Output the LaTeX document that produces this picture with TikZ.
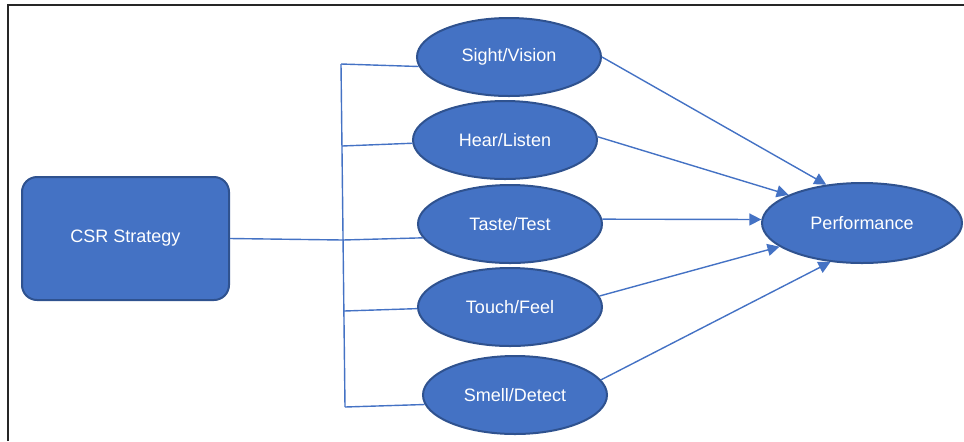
\documentclass[tikz,border=0pt]{standalone}
\usepackage{fontspec}
\setmainfont{Liberation Sans}
\usetikzlibrary{arrows.meta,shapes.geometric}

\definecolor{officeblue}{HTML}{4472C4}
\definecolor{officeedge}{HTML}{2F528F}

\begin{document}
\begin{tikzpicture}[x=0.5pt, y=-0.5pt,
  every node/.style={font=\fontsize{9}{11}\selectfont, text=white},
  sense/.style={ellipse, draw=officeedge, fill=officeblue, line width=1pt, minimum width=92pt, minimum height=39pt, inner sep=0pt},
  strategy/.style={rectangle, rounded corners=7.5pt, draw=officeedge, fill=officeblue, line width=1pt, minimum width=103.5pt, minimum height=61.5pt},
  link/.style={draw=officeblue, line width=0.7pt},
  effect/.style={link, -{Triangle[length=6pt, width=6pt]}}]

\useasboundingbox (0,0) rectangle (964,441);
\draw[black!85, line width=0.7pt] (8,441) -- (8,5) -- (964,5);

\node[strategy] (csr) at (125.5,238.5) {CSR Strategy};

\node[sense] (sight) at (509,57) {Sight/Vision};
\node[sense] (hear) at (505,140) {Hear/Listen};
\node[sense] (taste) at (510,224) {Taste/Test};
\node[sense] (touch) at (510,307) {Touch/Feel};
\node[sense] (smell) at (515,395) {Smell/Detect};

\node[sense, minimum width=100pt, minimum height=40pt] (perf) at (862,223) {Performance};

% bracket
\coordinate (b1) at (341,64);
\coordinate (b2) at (342,146);
\coordinate (b3) at (343,240);
\coordinate (b4) at (344,311);
\coordinate (b5) at (345,407);
\draw[link] (b1) -- (b5);
\draw[link] (csr.east) -- (b3);
\draw[link] (b1) -- (sight.186);
\draw[link] (b2) -- (hear.182);
\draw[link] (b3) -- (taste.189);
\draw[link] (b4) -- (touch.181);
\draw[link] (b5) -- (smell.186);

% arrows
\draw[effect] (sight.east) -- (perf.133);
\draw[effect] (hear.2) -- (perf.159);
\draw[effect] (taste.3) -- (perf.178);
\draw[effect] (touch.7) -- (perf.196);
\draw[effect] (smell.10) -- (perf.231);
\end{tikzpicture}
\end{document}
